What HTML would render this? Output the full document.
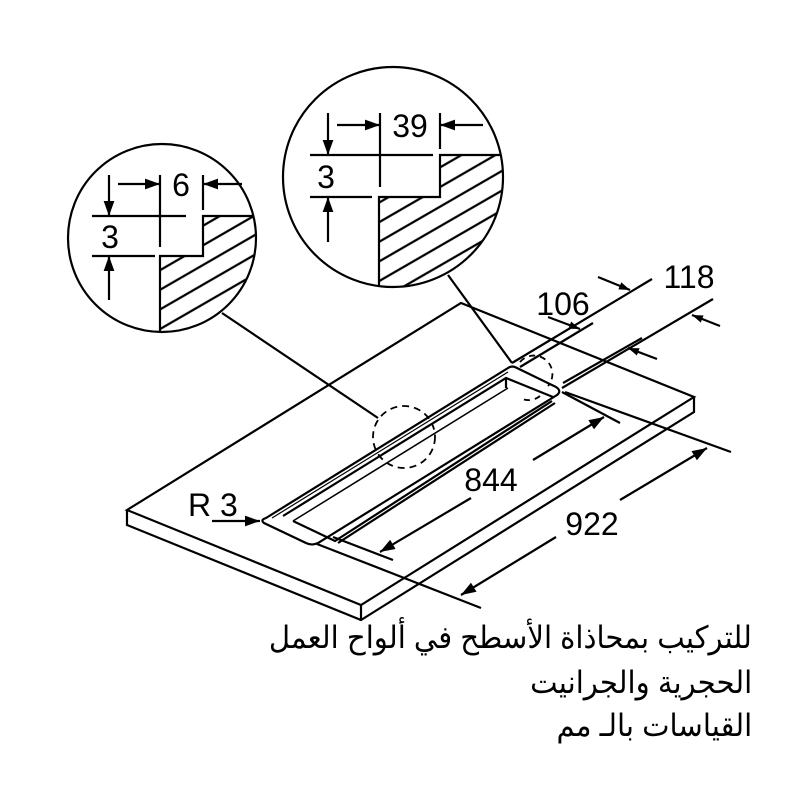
<!DOCTYPE html>
<html><head><meta charset="utf-8"><style>
html,body{margin:0;padding:0;background:#fff;width:800px;height:800px;overflow:hidden}
.ar{position:absolute;right:48px;direction:rtl;text-align:right;font-family:"Liberation Sans","DejaVu Sans",sans-serif;font-size:31px;color:#000;white-space:nowrap;line-height:1;transform:scaleX(0.94);transform-origin:right center}
</style></head><body>
<svg width="800" height="800" viewBox="0 0 800 800" style="position:absolute;left:0;top:0" font-family="Liberation Sans, sans-serif">
<defs>
<marker id="ah" viewBox="0 0 10 10" refX="10" refY="5" markerWidth="11" markerHeight="11" markerUnits="userSpaceOnUse" orient="auto"><path d="M0,1.5 L10,5 L0,8.5z" fill="#000"/></marker>
<marker id="ahb" viewBox="0 0 14 10" refX="14" refY="5" markerWidth="15" markerHeight="11" markerUnits="userSpaceOnUse" orient="auto"><path d="M0,0 L14,5 L0,10z" fill="#000"/></marker>
<clipPath id="c1"><circle cx="162" cy="238" r="94"/></clipPath>
<clipPath id="c2"><circle cx="393" cy="177" r="110"/></clipPath>
<pattern id="hat" patternUnits="userSpaceOnUse" width="30" height="17" patternTransform="rotate(-30)"><line x1="0" y1="8" x2="30" y2="8" stroke="#000" stroke-width="2.2"/></pattern>
</defs>
<g stroke="#000" stroke-width="2.2" fill="none">
<g clip-path="url(#c1)">
<polygon points="160,256 203,256 203,216 260,216 260,340 160,340" fill="url(#hat)" stroke="none"/>
<polyline points="160,340 160,256 203,256 203,216 260,216"/>
</g>
<circle cx="162" cy="238" r="94"/>
<line x1="92" y1="216" x2="186" y2="216"/>
<line x1="92" y1="256" x2="155" y2="256"/>
<line x1="160" y1="175" x2="160" y2="247"/>
<line x1="203" y1="175" x2="203" y2="210"/>
<line x1="118" y1="184" x2="160" y2="184" marker-end="url(#ahb)"/>
<line x1="242" y1="184" x2="203" y2="184" marker-end="url(#ahb)"/>
<line x1="109" y1="175" x2="109" y2="216" marker-end="url(#ahb)"/>
<line x1="109" y1="300" x2="109" y2="256" marker-end="url(#ahb)"/>
<g clip-path="url(#c2)">
<polygon points="379,290 379,197 440,197 440,155 510,155 510,290" fill="url(#hat)" stroke="none"/>
<polyline points="379,290 379,197 440,197 440,155 510,155"/>
</g>
<circle cx="393" cy="177" r="110"/>
<line x1="310" y1="155" x2="433" y2="155"/>
<line x1="310" y1="197" x2="372" y2="197"/>
<line x1="380" y1="113" x2="380" y2="187"/>
<line x1="440" y1="113" x2="440" y2="149"/>
<line x1="337" y1="125" x2="380" y2="125" marker-end="url(#ahb)"/>
<line x1="483" y1="125" x2="440" y2="125" marker-end="url(#ahb)"/>
<line x1="328" y1="113" x2="328" y2="155" marker-end="url(#ahb)"/>
<line x1="328" y1="242" x2="328" y2="197" marker-end="url(#ahb)"/>
<line x1="222" y1="313" x2="378" y2="418"/>
<line x1="448" y1="275" x2="512" y2="363"/>
<polygon points="127,510 461,303 694,397 361,605"/>
<polyline points="127,510 127,525 361,620 694,412 694,397"/>
<line x1="361" y1="605" x2="361" y2="620"/>
<path d="M266,518 L508,368 Q512,365 517,368 L556,387 Q562,391 557,395 L318,543 Q312,546 306,543 L264,523 Q260,520 266,518z"/>
<line x1="272" y1="518" x2="508" y2="372" stroke-width="1.2"/>
<polyline points="283,516 506,378 553,397"/>
<polyline points="506,378 506,388"/>
<polyline points="293,521 508,388" stroke-width="1.5"/>
<polyline points="293,521 335,541 552,401"/>
<line x1="338" y1="543" x2="555" y2="403"/>
<circle cx="404" cy="437" r="31" stroke-dasharray="7,5" stroke-width="1.8"/>
<path d="M520,362 A18 18 0 0 1 548,386 M540,396 A18 18 0 0 1 520,398" stroke-dasharray="6,5" stroke-width="1.8"/>
<line x1="512" y1="363" x2="652" y2="279"/>
<line x1="520" y1="367" x2="593" y2="323"/>
<line x1="562" y1="388" x2="713" y2="299"/>
<line x1="563" y1="383" x2="642" y2="338"/>
<line x1="598" y1="277" x2="630" y2="290" marker-end="url(#ah)"/>
<line x1="548" y1="317" x2="580" y2="329" marker-end="url(#ah)"/>
<line x1="720" y1="326" x2="692" y2="315" marker-end="url(#ah)"/>
<line x1="657" y1="359" x2="628" y2="348" marker-end="url(#ah)"/>
<line x1="562" y1="392" x2="620" y2="423"/>
<line x1="333" y1="537" x2="393" y2="560"/>
<line x1="471" y1="498" x2="380" y2="552" marker-end="url(#ahb)"/>
<line x1="533" y1="460" x2="604" y2="417" marker-end="url(#ahb)"/>
<line x1="565" y1="392" x2="731" y2="452"/>
<line x1="317" y1="544" x2="481" y2="608"/>
<line x1="556" y1="537" x2="461" y2="595" marker-end="url(#ahb)"/>
<line x1="620" y1="500" x2="707" y2="448" marker-end="url(#ahb)"/>
<line x1="212" y1="521" x2="260" y2="521" marker-end="url(#ahb)"/>
</g>
<g font-size="32" fill="#000">
<text x="181" y="196" text-anchor="middle">6</text>
<text x="110" y="248" text-anchor="middle">3</text>
<text x="410" y="137" text-anchor="middle">39</text>
<text x="326" y="188" text-anchor="middle">3</text>
<text x="563" y="315" text-anchor="middle">106</text>
<text x="689" y="288" text-anchor="middle">118</text>
<text x="491" y="491" text-anchor="middle">844</text>
<text x="592" y="535" text-anchor="middle">922</text>
<text x="188" y="516">R 3</text>
</g>
</svg>
<div class="ar" style="top:622px">للتركيب بمحاذاة الأسطح في ألواح العمل</div>
<div class="ar" style="top:667px">الحجرية والجرانيت</div>
<div class="ar" style="top:710px">القياسات بالـ مم</div>
</body></html>
